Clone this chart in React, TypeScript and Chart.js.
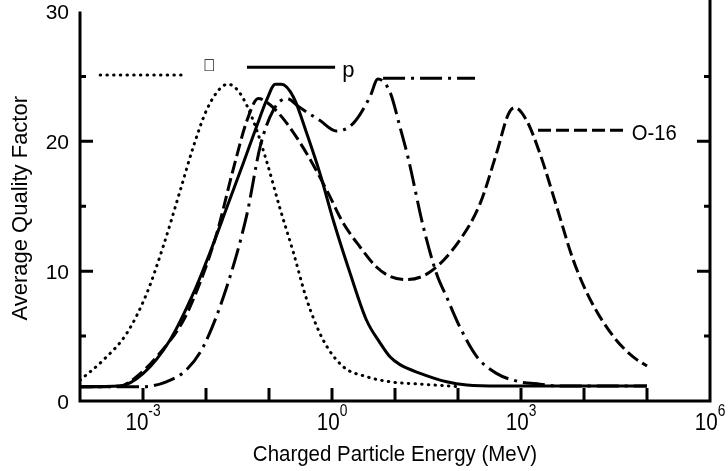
import React, { useEffect, useRef } from "react";
import { Chart, registerables } from "chart.js";
Chart.register(...registerables);

const FONT = '"Liberation Sans", Arial, Helvetica, sans-serif';

// Charged particle energy (MeV) and average quality factor, per curve
const dotE = [1e-4, 2.34e-4, 5.5e-4, 1.15e-3, 2.09e-3, 3.89e-3, 6.31e-3, 1.02e-2, 1.66e-2, 2.24e-2, 3.47e-2, 5.62e-2, 9.12e-2, 0.148, 0.245, 0.398, 0.724, 1.51, 3.55, 8.32, 25.1, 74.1, 100];
const dotQ = [1.6, 3.15, 5.2, 8.3, 11.9, 16.2, 19.6, 22.4, 24.05, 24.4, 23.7, 21.6, 18.5, 14.9, 11.4, 7.8, 4.7, 2.64, 1.87, 1.48, 1.3, 1.15, 1.1];

const protonE = [1e-4, 4.3e-4, 1.0e-3, 2.69e-3, 6.31e-3, 1.15e-2, 2.14e-2, 3.89e-2, 6.31e-2, 9.12e-2, 0.126, 0.158, 0.245, 0.398, 0.646, 1.05, 1.95, 3.55, 5.75, 8.32, 12.0, 25.1, 66.1, 138, 468, 1e5];
const protonQ = [1.1, 1.15, 2.1, 4.7, 8.3, 11.4, 14.9, 18.3, 21.1, 23.15, 24.4, 24.4, 23.4, 20.6, 17.5, 13.9, 9.8, 6.2, 4.5, 3.4, 2.8, 2.13, 1.48, 1.23, 1.15, 1.15];

const dashDotE = [1e-4, 1.0e-3, 2.4e-3, 4.9e-3, 9.1e-3, 2.14e-2, 4.47e-2, 7.24e-2, 0.117, 0.191, 0.309, 0.646, 1.17, 2.19, 3.98, 5.37, 8.32, 12.0, 16.2, 28.2, 45.7, 66.1, 107, 200, 407, 955, 2000, 4170, 1e5];
const dashDotQ = [1.1, 1.1, 1.5, 2.4, 4.2, 8.8, 14.4, 19.6, 22.4, 23.3, 22.6, 21.6, 20.8, 21.4, 23.4, 24.8, 23.8, 21.1, 18.7, 13.4, 9.8, 8.0, 5.7, 3.4, 2.13, 1.48, 1.3, 1.15, 1.15];

const o16E = [1e-4, 4.3e-4, 7.9e-4, 1.86e-3, 4.37e-3, 7.94e-3, 1.48e-2, 2.69e-2, 4.47e-2, 6.76e-2, 0.105, 0.191, 0.398, 0.832, 1.51, 2.75, 5.13, 8.32, 15.5, 36.3, 107, 224, 407, 631, 794, 1230, 2000, 3720, 6760, 12600, 29500, 60300, 1e5];
const o16Q = [1.1, 1.15, 1.87, 3.7, 6.2, 9.05, 12.9, 17.8, 21.6, 23.3, 22.8, 21.4, 19.05, 16.2, 13.7, 11.9, 10.3, 9.6, 9.35, 9.95, 12.4, 15.2, 19.05, 22.1, 22.6, 21.6, 19.05, 14.9, 10.85, 7.8, 4.95, 3.4, 2.7];

// Legend key lines (energy span, Q level) and labels
const keyDotE = [2.09e-4, 5.0e-3];
const keyDotQ = 25.1;
const keyProtonE = [4.47e-2, 1.12];
const keyProtonQ = 25.7;
const keyDashDotE = [6.46, 186];
const keyDashDotQ = 24.85;
const keyO16E = [1860, 47900];
const keyO16Q = 20.85;

const labelTexts = ["\uF061", "p", "O-16"];
const labelE = [8.9e-3, 1.45, 57500];
const labelQ = [25.8, 25.4, 20.6];

// Axis ticks
const yMajorTicks = [0, 10, 20, 30];
const yMinorTicks = [5, 15, 25];
const xDecadeTicks = [1e-3, 1e-2, 1e-1, 1, 1e1, 1e2, 1e3, 1e4, 1e5];
const xLabelExps = ["-3", "0", "3", "6"];
const xLabelVals = [1e-3, 1, 1e3, 1e6];

const xTitle = "Charged Particle Energy (MeV)";
const yTitle = "Average Quality Factor";

const pts = (e: number[], q: number[]) => e.map((v, i) => ({ x: v, y: q[i] }));
const keyPts = (e: number[], q: number) => e.map((v) => ({ x: v, y: q }));

const DOT = [0.5, 6.2];
const DASHDOT = [22, 6, 3, 6];
const DASH = [13, 5];

function scaledText(ctx: CanvasRenderingContext2D, text: string, x: number, y: number, sx: number) {
  ctx.save();
  ctx.translate(x, y);
  ctx.scale(sx, 1);
  ctx.fillText(text, 0, 0);
  ctx.restore();
}

const decoPlugin = {
  id: "deco",
  afterDraw(chart: any) {
    const { ctx, chartArea: a, scales } = chart;
    const xs = scales.x;
    const ys = scales.y;
    ctx.save();
    ctx.strokeStyle = "#000";
    ctx.fillStyle = "#000";
    ctx.lineWidth = 3;
    ctx.lineCap = "butt";
    ctx.setLineDash([]);
    // axis frame (left, bottom, right)
    ctx.beginPath();
    ctx.moveTo(a.left, a.top);
    ctx.lineTo(a.left, a.bottom);
    ctx.moveTo(a.left - 1.5, a.bottom);
    ctx.lineTo(a.right + 1.5, a.bottom);
    ctx.moveTo(a.right, a.bottom);
    ctx.lineTo(a.right, 0);
    ctx.stroke();

    // y ticks (inward, both sides)
    ctx.beginPath();
    for (const v of yMajorTicks) {
      if (v === 0 || v === 30) continue;
      const py = ys.getPixelForValue(v);
      ctx.moveTo(a.left, py);
      ctx.lineTo(a.left + 13, py);
      ctx.moveTo(a.right, py);
      ctx.lineTo(a.right - 13, py);
    }
    for (const v of yMinorTicks) {
      const py = ys.getPixelForValue(v);
      ctx.moveTo(a.left, py);
      ctx.lineTo(a.left + 6, py);
      ctx.moveTo(a.right, py);
      ctx.lineTo(a.right - 6, py);
    }
    // x decade ticks (upward)
    for (const v of xDecadeTicks) {
      const px = xs.getPixelForValue(v);
      ctx.moveTo(px, a.bottom);
      ctx.lineTo(px, a.bottom - 13);
    }
    ctx.stroke();

    // y tick labels
    ctx.font = `21px ${FONT}`;
    ctx.textAlign = "right";
    ctx.textBaseline = "middle";
    for (const v of yMajorTicks) {
      const py = ys.getPixelForValue(v);
      ctx.fillText(String(v), a.left - 11, py + 2);
    }

    // x tick labels with superscript exponents
    ctx.textBaseline = "alphabetic";
    ctx.textAlign = "left";
    const baseSx = 0.86;
    xLabelVals.forEach((v, i) => {
      const px = xs.getPixelForValue(v);
      ctx.font = `24px ${FONT}`;
      const wb = ctx.measureText("10").width * baseSx;
      ctx.font = `16px ${FONT}`;
      const we = ctx.measureText(xLabelExps[i]).width * baseSx;
      const left = px - (wb + we) / 2;
      ctx.font = `24px ${FONT}`;
      scaledText(ctx, "10", left, a.bottom + 29, baseSx);
      ctx.font = `16px ${FONT}`;
      scaledText(ctx, xLabelExps[i], left + wb, a.bottom + 15, baseSx);
    });

    // x title
    ctx.font = `22px ${FONT}`;
    ctx.textAlign = "center";
    scaledText(ctx, xTitle, (a.left + a.right) / 2, a.bottom + 60, 0.93);

    // y title
    ctx.save();
    ctx.translate(21, (a.top + a.bottom) / 2 + 2);
    ctx.rotate(-Math.PI / 2);
    ctx.textAlign = "center";
    ctx.textBaseline = "middle";
    ctx.font = `22px ${FONT}`;
    ctx.fillText(yTitle, 0, 0);
    ctx.restore();

    // key labels
    ctx.textAlign = "left";
    ctx.textBaseline = "middle";
    labelTexts.forEach((t, i) => {
      ctx.font = i === 0 ? `17px ${FONT}` : `22px ${FONT}`;
      const px = xs.getPixelForValue(labelE[i]);
      const py = ys.getPixelForValue(labelQ[i]);
      scaledText(ctx, t, px, py, i === 2 ? 0.92 : 1);
    });
    ctx.restore();
  },
};

export default function App() {
  const ref = useRef<HTMLCanvasElement | null>(null);
  useEffect(() => {
    if (!ref.current) return;
    const line = (data: any[], dash: number[], cap: CanvasLineCap = "butt") => ({
      data,
      borderColor: "#000",
      backgroundColor: "#000",
      borderWidth: 3,
      borderDash: dash,
      borderCapStyle: cap,
      pointRadius: 0,
      fill: false,
      cubicInterpolationMode: "monotone" as const,
    });
    const chart = new Chart(ref.current, {
      type: "line",
      data: {
        datasets: [
          line(pts(dotE, dotQ), DOT, "round"),
          line(pts(protonE, protonQ), []),
          line(pts(dashDotE, dashDotQ), DASHDOT),
          line(pts(o16E, o16Q), DASH),
          line(keyPts(keyDotE, keyDotQ), DOT, "round"),
          line(keyPts(keyProtonE, keyProtonQ), []),
          line(keyPts(keyDashDotE, keyDashDotQ), DASHDOT),
          line(keyPts(keyO16E, keyO16Q), DASH),
        ],
      },
      options: {
        responsive: false,
        animation: false,
        devicePixelRatio: 1,
        layout: { padding: { left: 80, right: 18, top: 11.5, bottom: 70 } },
        plugins: { legend: { display: false }, tooltip: { enabled: false } },
        scales: {
          x: { type: "logarithmic", min: 1e-4, max: 1e6, display: false },
          y: { type: "linear", min: 0, max: 30, display: false },
        },
      },
      plugins: [decoPlugin],
    });
    return () => chart.destroy();
  }, []);
  return (
    <div style={{ position: "absolute", left: 0, top: 0, width: 728, height: 471, background: "#fff" }}>
      <canvas ref={ref} width={728} height={471} />
    </div>
  );
}
